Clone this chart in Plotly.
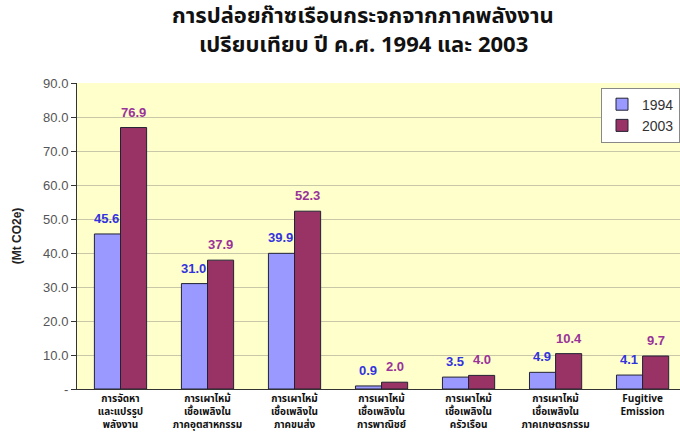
import plotly.graph_objects as go

categories = [
    "การจัดหา<br>และแปรรูป<br>พลังงาน",
    "การเผาไหม้<br>เชื้อเพลิงใน<br>ภาคอุตสาหกรรม",
    "การเผาไหม้<br>เชื้อเพลิงใน<br>ภาคขนส่ง",
    "การเผาไหม้<br>เชื้อเพลิงใน<br>การพาณิชย์",
    "การเผาไหม้<br>เชื้อเพลิงใน<br>ครัวเรือน",
    "การเผาไหม้<br>เชื้อเพลิงใน<br>ภาคเกษตรกรรม",
    "Fugitive<br>Emission",
]
values_1994 = [45.6, 31.0, 39.9, 0.9, 3.5, 4.9, 4.1]
values_2003 = [76.9, 37.9, 52.3, 2.0, 4.0, 10.4, 9.7]
tick_vals = [0, 10, 20, 30, 40, 50, 60, 70, 80, 90]
tick_text = ["-", "10.0", "20.0", "30.0", "40.0", "50.0", "60.0", "70.0", "80.0", "90.0"]
title_lines = ["การปล่อยก๊าซเรือนกระจกจากภาคพลังงาน", "เปรียบเทียบ ปี ค.ศ. 1994 และ 2003"]

c1994 = "#9999FF"
c2003 = "#993366"
lab1994 = "#3333DD"
lab2003 = "#993399"
thai_font = "Tahoma, 'Noto Sans Thai', 'Noto Sans', sans-serif"

x_idx = list(range(len(categories)))

fig = go.Figure()
fig.add_trace(go.Bar(x=x_idx, y=values_1994, name="1994",
                     marker=dict(color=c1994, line=dict(color="#222233", width=1))))
fig.add_trace(go.Bar(x=x_idx, y=values_2003, name="2003",
                     marker=dict(color=c2003, line=dict(color="#222233", width=1))))

annotations = []
for i, v in enumerate(values_1994):
    annotations.append(dict(x=i, y=v, xref="x", yref="y", text=f"{v:.1f}", showarrow=False,
                            xshift=-14, yshift=6, yanchor="bottom",
                            font=dict(family="Arial", size=13, color=lab1994, weight="bold")))
for i, v in enumerate(values_2003):
    annotations.append(dict(x=i, y=v, xref="x", yref="y", text=f"{v:.1f}", showarrow=False,
                            xshift=13, yshift=6, yanchor="bottom",
                            font=dict(family="Arial", size=13, color=lab2003, weight="bold")))
for ty, line in zip([1.216, 1.124], title_lines):
    annotations.append(dict(x=0.475, y=ty, xref="paper", yref="paper", text=f"<b>{line}</b>",
                            showarrow=False, xanchor="center", yanchor="middle",
                            font=dict(family=thai_font, size=22, color="#111111")))

fig.update_layout(
    width=680, height=433,
    margin=dict(l=77, r=0, t=83, b=44),
    paper_bgcolor="white",
    plot_bgcolor="#FFFFCC",
    barmode="group",
    bargap=0.4,
    bargroupgap=0,
    legend=dict(x=1.0, y=0.985, xanchor="right", yanchor="top",
                bgcolor="white", bordercolor="#888888", borderwidth=1,
                font=dict(family="Arial", size=14, color="#333333"),
                itemwidth=30, tracegroupgap=2),
    annotations=annotations,
    xaxis=dict(range=[-0.5, 6.43], tickmode="array", tickvals=x_idx, ticktext=categories,
               showline=True, linecolor="#333333", linewidth=1, showgrid=False, ticks="",
               tickfont=dict(family=thai_font, size=10, color="#111111", weight="bold")),
    yaxis=dict(range=[0, 90], tickmode="array", tickvals=tick_vals, ticktext=tick_text,
               showline=True, linecolor="#333333", linewidth=1, ticks="outside", ticklen=5,
               tickcolor="#333333", showgrid=True, gridcolor="#C8C8A8", gridwidth=1,
               zeroline=False,
               tickfont=dict(family="Arial", size=13, color="#555555"),
               title=dict(text="<b>(Mt CO2e)</b>", standoff=18,
                          font=dict(family="Arial", size=12, color="#222222"))),
)

fig.write_html("out.html")
